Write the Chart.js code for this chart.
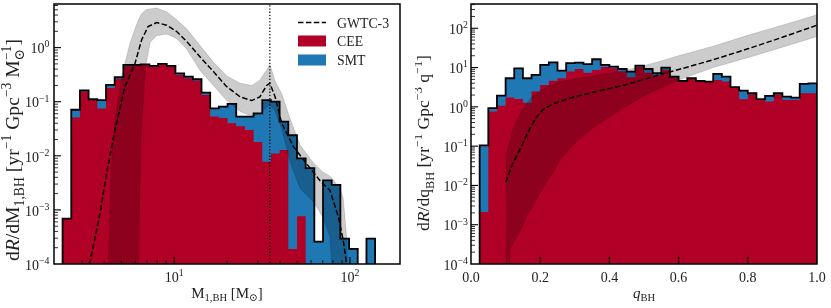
<!DOCTYPE html>
<html><head><meta charset="utf-8">
<script src="https://cdn.jsdelivr.net/npm/chart.js@4/dist/chart.umd.min.js"></script>
<style>
html,body{margin:0;padding:0;background:#fff;}
#wrap{position:relative;width:831px;height:308px;background:#fff;}
#c1{position:absolute;left:0;top:0;}
#c2{position:absolute;left:415px;top:0;}
</style></head><body>
<div id="wrap"><canvas id="c1" width="415" height="308"></canvas><canvas id="c2" width="416" height="308"></canvas></div>
<script>
// ================= DATA =================
// Left panel: primary BH mass histogram (log-spaced bins)
const massBinEdges = [2.316, 2.595, 2.908, 3.258, 3.651, 4.091, 4.583, 5.135, 5.754, 6.447, 7.224, 8.094, 9.069, 10.16, 11.39, 12.76, 14.30, 16.02, 17.95, 20.11, 22.53, 25.25, 28.29, 31.69, 35.51, 39.79, 44.58, 49.95, 55.96, 62.70, 70.26, 78.72, 88.20, 98.83, 110.7, 124.1, 139.0];
const massRateCEE = [6.9e-4, 0.051, 0.155, 0.107, 0.075, 0.180, 0.263, 0.45, 0.47, 0.475, 0.44, 0.485, 0.445, 0.312, 0.27, 0.245, 0.133, 0.053, 0.050, 0.040, 0.035, 0.030, 0.018, 0.0078, 0.011, 0.0128, 1.9e-4, 7.6e-4, 0, 0, 0, 0, 0, 0, 0, 0];
const massRateSMT = [0, 0.020, 0.007, 0.004, 0.032, 0.024, 0.020, 0.03, 0.01, 0.015, 0.02, 0.015, 0.015, 0.023, 0.021, 0.015, 0.014, 0.022, 0.031, 0.051, 0.018, 0.023, 0.043, 0.099, 0.089, 0.030, 0.0238, 0.0082, 0.0059, 2.6e-4, 0.0035, 0.0029, 2.95e-4, 1.9e-4, 0, 2.95e-4];
// GWTC-3 mass model: median and credible band
const gwMass = [3.2, 3.3, 3.78, 4.12, 4.6, 5.24, 5.98, 6.52, 7.1, 7.94, 9.05, 10.3, 11.8, 14.0, 16.7, 19.9, 23.7, 27.6, 30.7, 33.6, 35.0, 37.5, 40.9, 47.7, 56.5, 67.4, 76.9, 86, 91.5, 95.7, 98];
const gwMassMedian = [5e-5, 1.0e-4, 8.5e-4, 4.7e-3, 0.030, 0.19, 0.51, 1.38, 2.45, 2.9, 2.6, 2.0, 1.29, 0.68, 0.36, 0.19, 0.123, 0.105, 0.123, 0.20, 0.22, 0.123, 0.04, 0.0148, 7.2e-3, 3.5e-3, 2.3e-3, 7.4e-4, 2.75e-4, 1.0e-4, 4e-5];
const gwMassBand = [3.3, 3.78, 4.12, 4.21, 4.37, 4.6, 5.02, 5.24, 5.6, 5.98, 6.24, 6.5, 6.9, 7.3, 7.94, 9.05, 10.3, 11.8, 14.0, 16.7, 19.9, 23.7, 27.6, 30.7, 33.6, 35.0, 37.5, 40.9, 45.5, 52, 62, 70, 76.9, 78.7, 80.2, 87.6, 91.5, 95.7, 97.8, 99, 100];
const gwMassUpper = [1e-9, 1e-9, 1e-6, 1e-4, 6.3e-3, 0.046, 0.29, 0.51, 1.2, 2.2, 3.2, 4.2, 5.0, 5.2, 5.4, 4.6, 3.3, 2.2, 1.1, 0.54, 0.30, 0.22, 0.20, 0.25, 0.39, 0.49, 0.24, 0.14, 0.05, 0.0158, 7.4e-3, 5.0e-3, 4.2e-3, 3.9e-3, 3.6e-3, 2.5e-3, 1.66e-3, 3.2e-4, 3e-5, 1e-6, 1e-9];
const gwMassLower = [1e-9, 1e-9, 1e-9, 1e-9, 1e-9, 1e-9, 1e-9, 1e-9, 1e-9, 1e-7, 1e-4, 0.032, 0.48, 1.26, 1.66, 1.78, 1.48, 0.93, 0.38, 0.20, 0.105, 0.066, 0.054, 0.060, 0.079, 0.089, 0.066, 0.032, 7.9e-3, 2.5e-3, 1.4e-3, 7.4e-4, 3.2e-4, 1e-4, 1e-6, 1e-9, 1e-9, 1e-9, 1e-9, 1e-9, 1e-9];
const gwPeakMass = 35;

// Right panel: mass ratio histogram (linear bins)
const qBinEdges = [0, 0.025, 0.05, 0.075, 0.1, 0.125, 0.15, 0.175, 0.2, 0.225, 0.25, 0.275, 0.3, 0.325, 0.35, 0.375, 0.4, 0.425, 0.45, 0.475, 0.5, 0.525, 0.55, 0.575, 0.6, 0.625, 0.65, 0.675, 0.7, 0.725, 0.75, 0.775, 0.8, 0.825, 0.85, 0.875, 0.9, 0.925, 0.95, 0.975, 1.0];
const qRateCEE = [0, 0.0021, 0.76, 1.06, 1.72, 1.58, 1.28, 2.45, 3.6, 4.6, 5.35, 7.9, 9.2, 7.4, 8.7, 10.4, 9.6, 7.9, 5.7, 10.4, 7.4, 6.4, 8.7, 5.6, 4.4, 5.1, 4.4, 4.25, 4.8, 4.4, 3.0, 1.56, 2.05, 1.5, 1.36, 2.05, 1.5, 1.5, 2.22, 2.22];
const qRateSMT = [0, 0.102, 0.165, 0.88, 3.63, 8.0, 4.07, 4.05, 8.1, 9.0, 3.05, 5.0, 4.1, 4.9, 7.6, 1.3, 1.0, 1.3, 2.2, 0.8, 1.8, 0.8, 1.3, 0.3, 0.15, 0.25, 0.15, 0.15, 2.1, 1.5, 0.16, 1.04, 0.17, 0.08, 0.54, 0.17, 0.32, 0.22, 1.62, 1.76];
// GWTC-3 mass-ratio model
const gwQ = [0.1, 0.12, 0.146, 0.17, 0.19, 0.21, 0.238, 0.27, 0.3, 0.35, 0.4, 0.45, 0.5, 0.55, 0.6, 0.7, 0.8, 0.9, 1.0];
const gwQMedian = [0.012, 0.035, 0.1, 0.28, 0.56, 0.89, 1.2, 1.5, 1.8, 2.3, 2.95, 3.7, 5.0, 6.8, 8.9, 15.8, 30, 59, 120];
const gwQBand = [0.1, 0.113, 0.12, 0.146, 0.16, 0.17, 0.19, 0.21, 0.238, 0.257, 0.27, 0.3, 0.35, 0.4, 0.45, 0.5, 0.55, 0.6, 0.7, 0.8, 0.9, 1.0];
const gwQUpper = [0.055, 0.14, 0.25, 0.79, 1.15, 1.58, 2.3, 3.0, 3.8, 4.3, 4.6, 5.1, 6.0, 7.2, 8.7, 11.2, 14.8, 20, 35, 66, 120, 220];
const gwQLower = [1e-9, 2.3e-4, 3.2e-4, 8e-4, 1.6e-3, 2.2e-3, 4.5e-3, 9.5e-3, 0.022, 0.045, 0.06, 0.12, 0.28, 0.56, 1.05, 1.9, 3.1, 4.8, 10, 17.8, 33, 62];

// Axis ticks / labels
const massXTicks = [10, 100];
const massXTickLabels = ['10^1', '10^2'];
const massXMinor = [3, 4, 5, 6, 7, 8, 9, 20, 30, 40, 50, 60, 70, 80, 90];
const massYTicks = [1e-4, 1e-3, 1e-2, 1e-1, 1];
const massYTickLabels = ['10^−4', '10^−3', '10^−2', '10^−1', '10^0'];
const qXTicks = [0, 0.2, 0.4, 0.6, 0.8, 1.0];
const qXTickLabels = ['0.0', '0.2', '0.4', '0.6', '0.8', '1.0'];
const qYTicks = [1e-4, 1e-3, 1e-2, 1e-1, 1, 10, 100];
const qYTickLabels = ['10^−4', '10^−3', '10^−2', '10^−1', '10^0', '10^1', '10^2'];
const legendLabels = ['GWTC-3', 'CEE', 'SMT'];

// ================= STYLE =================
const FONT = '"Liberation Serif", "DejaVu Serif", serif';
const TXT = '#222';
const RED = '#b10026';
const BLUE = '#1f77b4';
const BAND = 'rgba(0,0,0,0.2)';
const FLOOR = 1e-9; // plotting floor for empty bins (below axis range)

function minorLog(lo, hi) {
  const out = [];
  for (let e = Math.floor(Math.log10(lo)); e <= Math.ceil(Math.log10(hi)); e++)
    for (let m = 2; m <= 9; m++) { const v = m * Math.pow(10, e); if (v > lo && v < hi) out.push(v); }
  return out;
}
function histPoints(edges, vals) {
  const f = v => (v > 0 ? v : FLOOR);
  const pts = [{x: edges[0], y: FLOOR}];
  for (let i = 0; i < vals.length; i++) pts.push({x: edges[i], y: f(vals[i])});
  pts.push({x: edges[edges.length - 1], y: f(vals[vals.length - 1])});
  pts.push({x: edges[edges.length - 1], y: FLOOR});
  return pts;
}
function xy(xs, ys) { return xs.map((x, i) => ({x, y: ys[i]})); }
function ds(data, o) {
  return Object.assign({data, pointRadius: 0, pointHoverRadius: 0, borderWidth: 0, fill: false, tension: 0, spanGaps: true}, o);
}
function parseTick(s) { const p = s.split('^'); return p.length > 1 ? [{t: p[0]}, {t: p[1], k: 'sup'}] : [{t: p[0]}]; }

function layoutRich(ctx, segs, base) {
  const items = []; let cur = 0, lastStart = 0;
  for (const s of segs) {
    const k = s.k || 'n';
    const size = k === 'n' ? base : base * 0.7;
    const font = (s.it ? 'italic ' : '') + size.toFixed(2) + 'px ' + FONT;
    ctx.font = font;
    const w = ctx.measureText(s.t).width;
    let sx;
    if (s.stack) { sx = lastStart; cur = Math.max(cur, sx + w); }
    else { sx = cur; lastStart = sx; cur += w; }
    const dy = k === 'sub' ? base * 0.26 : (k === 'sup' ? -base * 0.42 : 0);
    items.push({t: s.t, font, sx, dy});
  }
  return {items, width: cur};
}
function drawRich(ctx, segs, x, y, base, align) {
  const L = layoutRich(ctx, segs, base);
  const x0 = align === 'center' ? x - L.width / 2 : (align === 'right' ? x - L.width : x);
  ctx.textAlign = 'left'; ctx.textBaseline = 'alphabetic';
  for (const it of L.items) { ctx.font = it.font; ctx.fillText(it.t, x0 + it.sx, y + it.dy); }
  return L.width;
}

const deco = {
  id: 'deco',
  afterDraw(chart, args, o) {
    const ctx = chart.ctx, a = chart.chartArea, xs = chart.scales.x, ys = chart.scales.y;
    ctx.save();
    ctx.strokeStyle = '#000';
    const seg = (x1, y1, x2, y2, w) => { ctx.lineWidth = w; ctx.beginPath(); ctx.moveTo(x1, y1); ctx.lineTo(x2, y2); ctx.stroke(); };
    // ticks (inward, left and bottom)
    o.xMajor.forEach(v => { const p = xs.getPixelForValue(v); if (p > a.left + 1 && p < a.right - 1) seg(p, a.bottom, p, a.bottom - 7, 1.1); });
    (o.xMinor || []).forEach(v => { const p = xs.getPixelForValue(v); seg(p, a.bottom, p, a.bottom - 4, 0.8); });
    o.yMajor.forEach(v => { const p = ys.getPixelForValue(v); if (p > a.top + 1 && p < a.bottom - 1) seg(a.left, p, a.left + 7, p, 1.1); });
    (o.yMinor || []).forEach(v => { const p = ys.getPixelForValue(v); seg(a.left, p, a.left + 4, p, 0.8); });
    // frame
    ctx.lineWidth = 1.5;
    ctx.strokeRect(a.left, a.top, a.right - a.left, a.bottom - a.top);
    // tick labels
    ctx.fillStyle = TXT;
    o.xMajor.forEach((v, i) => drawRich(ctx, parseTick(o.xLabels[i]), xs.getPixelForValue(v), a.bottom + 18, 14, 'center'));
    o.yMajor.forEach((v, i) => drawRich(ctx, parseTick(o.yLabels[i]), a.left - o.yLabGap, ys.getPixelForValue(v) + 5.7, 14, 'right'));
    // axis titles
    drawRich(ctx, o.xTitle, o.xTitleX, a.bottom + 33.5, 15, 'center');
    const w0 = layoutRich(ctx, o.yTitle, 13.5).width;
    const ySize = 13.5 * o.yTitleLen / w0;
    ctx.save();
    ctx.translate(o.yTitleX, o.yTitleY);
    ctx.rotate(-Math.PI / 2);
    drawRich(ctx, o.yTitle, 0, 0, ySize, 'center');
    ctx.restore();
    // legend
    if (o.legend) {
      const lx = a.left + 244, tx = a.left + 283;
      ctx.setLineDash([5.5, 2.4]); seg(lx, 22.5, lx + 28, 22.5, 1.5); ctx.setLineDash([]);
      ctx.fillStyle = RED; ctx.fillRect(lx, 35.5, 28, 11);
      ctx.fillStyle = BLUE; ctx.fillRect(lx, 54.5, 28, 11);
      ctx.fillStyle = TXT;
      drawRich(ctx, [{t: legendLabels[0]}], tx, 27.5, 13.8, 'left');
      drawRich(ctx, [{t: legendLabels[1]}], tx, 46, 13.8, 'left');
      drawRich(ctx, [{t: legendLabels[2]}], tx, 65, 13.8, 'left');
    }
    ctx.restore();
  }
};

function baseOptions(pad, xScale, yScale, decoOpts) {
  return {
    responsive: false, animation: false, events: [],
    layout: {padding: pad},
    scales: {x: Object.assign({display: false}, xScale), y: Object.assign({display: false}, yScale)},
    plugins: {legend: {display: false}, tooltip: {enabled: false}, deco: decoOpts}
  };
}

// ================= LEFT CHART =================
const massTotal = massRateCEE.map((v, i) => v + massRateSMT[i]);
new Chart(document.getElementById('c1'), {
  type: 'line',
  data: {datasets: [
    ds(histPoints(massBinEdges, massTotal), {stepped: true, borderColor: '#000', borderWidth: 1.8, order: 0}),
    ds([{x: gwPeakMass, y: FLOOR}, {x: gwPeakMass, y: 1e3}], {borderColor: '#000', borderWidth: 1.2, borderDash: [1.3, 1.9], order: 1}),
    ds(xy(gwMass, gwMassMedian), {borderColor: '#000', borderWidth: 1.5, borderDash: [5.5, 2.4], order: 2}),
    ds(xy(gwMassBand, gwMassUpper), {fill: '+1', backgroundColor: BAND, borderColor: 'rgba(0,0,0,0.18)', borderWidth: 0.8, order: 3}),
    ds(xy(gwMassBand, gwMassLower), {borderColor: 'rgba(0,0,0,0.18)', borderWidth: 0.8, order: 4}),
    ds(histPoints(massBinEdges, massRateCEE), {stepped: true, fill: 'start', backgroundColor: RED, order: 5}),
    ds(histPoints(massBinEdges, massTotal), {stepped: true, fill: 'start', backgroundColor: BLUE, order: 6})
  ]},
  options: baseOptions({left: 54, right: 15, top: 4, bottom: 44},
    {type: 'logarithmic', min: 2.07, max: 192.6},
    {type: 'logarithmic', min: 1e-4, max: 6.4},
    {xMajor: massXTicks, xLabels: massXTickLabels, xMinor: massXMinor,
     yMajor: massYTicks, yLabels: massYTickLabels, yMinor: minorLog(1e-4, 6.4), yLabGap: 4.5,
     xTitle: [{t: 'M'}, {t: '1,BH', k: 'sub'}, {t: ' [M'}, {t: '⊙', k: 'sub'}, {t: ']'}], xTitleX: 227,
     yTitle: [{t: 'd'}, {t: 'R', it: 1}, {t: '/dM'}, {t: '1,BH', k: 'sub'}, {t: ' [yr'}, {t: '−1', k: 'sup'}, {t: ' Gpc'}, {t: '−3', k: 'sup'}, {t: ' M'}, {t: '⊙', k: 'sub'}, {t: '−1', k: 'sup', stack: 1}, {t: ']'}],
     yTitleX: 19, yTitleY: 150, yTitleLen: 222, legend: true})
  ,
  plugins: [deco]
});

// ================= RIGHT CHART =================
const qTotal = qRateCEE.map((v, i) => v + qRateSMT[i]);
new Chart(document.getElementById('c2'), {
  type: 'line',
  data: {datasets: [
    ds(histPoints(qBinEdges, qTotal), {stepped: true, borderColor: '#000', borderWidth: 1.8, order: 0}),
    ds(xy(gwQ, gwQMedian), {borderColor: '#000', borderWidth: 1.5, borderDash: [5.5, 2.4], order: 2}),
    ds(xy(gwQBand, gwQUpper), {fill: '+1', backgroundColor: BAND, borderColor: 'rgba(0,0,0,0.18)', borderWidth: 0.8, order: 3}),
    ds(xy(gwQBand, gwQLower), {borderColor: 'rgba(0,0,0,0.18)', borderWidth: 0.8, order: 4}),
    ds(histPoints(qBinEdges, qRateCEE), {stepped: true, fill: 'start', backgroundColor: RED, order: 5}),
    ds(histPoints(qBinEdges, qTotal), {stepped: true, fill: 'start', backgroundColor: BLUE, order: 6})
  ]},
  options: baseOptions({left: 56, right: 14, top: 4, bottom: 44},
    {type: 'linear', min: 0, max: 1},
    {type: 'logarithmic', min: 1e-4, max: 415},
    {xMajor: qXTicks, xLabels: qXTickLabels, xMinor: [],
     yMajor: qYTicks, yLabels: qYTickLabels, yMinor: minorLog(1e-4, 415), yLabGap: 3,
     xTitle: [{t: 'q', it: 1}, {t: 'BH', k: 'sub'}], xTitleX: 229,
     yTitle: [{t: 'd'}, {t: 'R', it: 1}, {t: '/dq'}, {t: 'BH', k: 'sub'}, {t: ' [yr'}, {t: '−1', k: 'sup'}, {t: ' Gpc'}, {t: '−3', k: 'sup'}, {t: ' q'}, {t: '−1', k: 'sup'}, {t: ']'}],
     yTitleX: 14, yTitleY: 143, yTitleLen: 176, legend: false}),
  plugins: [deco]
});
</script></body></html>
